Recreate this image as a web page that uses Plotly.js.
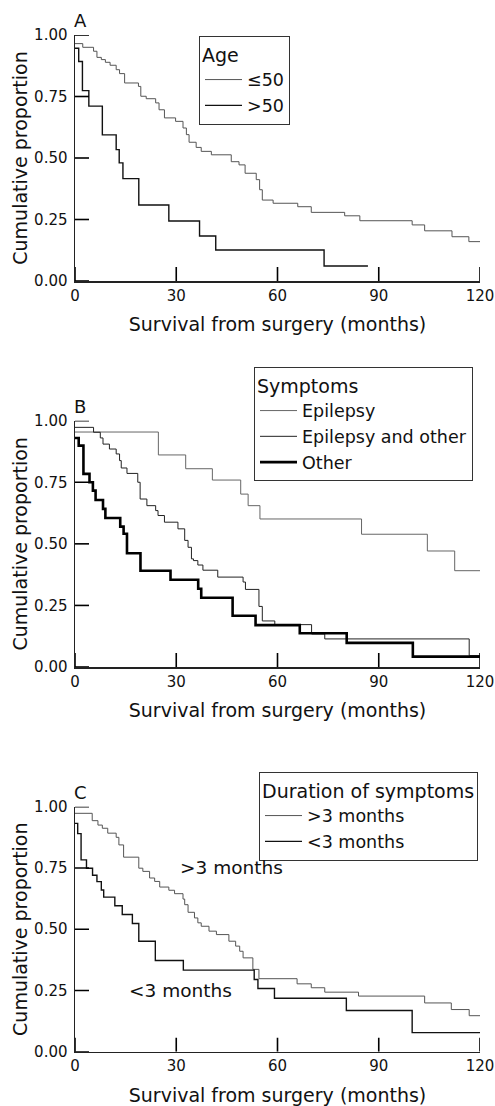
<!DOCTYPE html>
<html>
<head>
<meta charset="utf-8">
<script src="https://cdn.plot.ly/plotly-3.0.1.min.js"></script>
<style>html,body{margin:0;padding:0;background:#fff;}#chart{width:495px;height:1106px;}</style>
</head>
<body>
<div id="chart"></div>
<script>
// ---- Data ----
// Panel A: Age
const ageLe50Months = [0, 2.3, 5.5, 6.5, 7.8, 9, 10.4, 12.2, 13.2, 14.7, 18.8, 19.5, 21.1, 23.9, 24.9, 26.5, 29.8, 32, 33, 33.8, 35.9, 37.4, 40.4, 46.3, 48.6, 50.4, 53.7, 54.7, 55.5, 58.7, 66, 70, 79.9, 84.4, 99.9, 103.6, 111.7, 116.7, 120];
const ageLe50Surv   = [0.965, 0.950, 0.934, 0.909, 0.90, 0.889, 0.877, 0.859, 0.843, 0.805, 0.791, 0.751, 0.741, 0.724, 0.696, 0.663, 0.649, 0.622, 0.595, 0.564, 0.543, 0.527, 0.513, 0.485, 0.472, 0.438, 0.412, 0.371, 0.329, 0.316, 0.302, 0.279, 0.265, 0.245, 0.228, 0.204, 0.18, 0.16, 0.16];
const ageGt50Months = [0, 1.1, 2.2, 4.1, 8.1, 12.2, 13.1, 14.2, 18.9, 27.8, 36.9, 41.7, 73.8, 86.8];
const ageGt50Surv   = [0.946, 0.892, 0.774, 0.711, 0.594, 0.534, 0.48, 0.416, 0.309, 0.244, 0.183, 0.126, 0.061, 0.061];

// Panel B: Symptoms
const epiMonths = [0, 24.7, 32.8, 40.7, 49.1, 51.3, 54.8, 84.9, 104.4, 112.5, 120];
const epiSurv   = [0.954, 0.861, 0.805, 0.759, 0.702, 0.655, 0.601, 0.539, 0.471, 0.391, 0.391];
const epiOtherMonths = [0, 5.5, 7.5, 8.3, 10.2, 12.2, 13.2, 13.7, 15.4, 18.6, 19.3, 21.3, 23.9, 24.6, 26.5, 30.5, 32.5, 33.5, 34.5, 35.1, 36.4, 37.9, 42.3, 49.8, 50.5, 54.5, 55.5, 59.2, 70.1, 74, 116.8, 120];
const epiOtherSurv   = [0.973, 0.953, 0.930, 0.905, 0.885, 0.865, 0.838, 0.808, 0.786, 0.75, 0.682, 0.655, 0.635, 0.615, 0.588, 0.561, 0.514, 0.486, 0.439, 0.432, 0.414, 0.393, 0.365, 0.345, 0.315, 0.246, 0.187, 0.172, 0.134, 0.114, 0.046, 0.046];
const otherMonths = [0, 1.1, 2.5, 4.3, 5.3, 6.1, 8.3, 9, 13.4, 14.4, 15.4, 19.4, 28.3, 36.5, 37.4, 46.7, 53.5, 66.6, 80.5, 100.1, 120];
const otherSurv   = [0.930, 0.899, 0.784, 0.75, 0.716, 0.678, 0.642, 0.605, 0.570, 0.541, 0.462, 0.391, 0.354, 0.318, 0.281, 0.208, 0.170, 0.137, 0.098, 0.042, 0.042];

// Panel C: Duration of symptoms
const longMonths = [0, 5.1, 6.8, 8.1, 9.7, 12.2, 13, 14.4, 18.9, 20.1, 22.1, 23.6, 25.1, 27.8, 29.5, 32, 32.5, 33.5, 35.4, 36.4, 37.4, 39.7, 41.9, 45.6, 47.6, 48.8, 49.8, 52.7, 54.5, 65.8, 70, 74, 84, 103.6, 111.5, 116.8, 120];
const longSurv   = [0.973, 0.943, 0.925, 0.912, 0.892, 0.875, 0.844, 0.794, 0.749, 0.736, 0.709, 0.695, 0.672, 0.659, 0.645, 0.623, 0.60, 0.569, 0.546, 0.526, 0.512, 0.492, 0.478, 0.451, 0.431, 0.41, 0.383, 0.336, 0.298, 0.277, 0.261, 0.243, 0.227, 0.199, 0.172, 0.147, 0.147];
const shortMonths = [0, 0.8, 1.8, 3.4, 5.2, 6.5, 7.8, 8.5, 11.8, 14, 17, 18.9, 23.8, 32.1, 53.1, 54.2, 59.1, 80.4, 99.9, 120];
const shortSurv   = [0.932, 0.89, 0.783, 0.749, 0.72, 0.694, 0.66, 0.631, 0.596, 0.560, 0.523, 0.451, 0.372, 0.333, 0.295, 0.258, 0.218, 0.168, 0.078, 0.078];

const xTicks = [0, 30, 60, 90, 120];
const yTicks = [0, 0.25, 0.5, 0.75, 1];
const yTickText = ['0.00', '0.25', '0.50', '0.75', '1.00'];
const xTitle = 'Survival from surgery (months)';
const yTitle = 'Cumulative proportion';

// ---- Styling ----
const FONT = 'DejaVu Sans, Arial, sans-serif';
const TXT = '#111';
const W = 495, H = 1106;
const ML = 75, MR = 15;
const TICK_PX = 14;
function dom(topPx, botPx) { return [1 - botPx / H, 1 - topPx / H]; }
const domA = dom(35, 281), domB = dom(420.7, 667), domC = dom(806.7, 1051.7);

function xAxis(anchor) {
  return {
    anchor: anchor, domain: [0, 1], range: [0, 120],
    tickmode: 'array', tickvals: xTicks, ticks: '',
    showline: true, linecolor: '#222', linewidth: 1.5, showgrid: false, zeroline: false,
    tickfont: { family: FONT, size: 15, color: TXT },
    title: { text: xTitle, font: { family: FONT, size: 19, color: TXT }, standoff: 14 },
    automargin: false, fixedrange: true
  };
}
function yAxis(anchor, domain) {
  return {
    anchor: anchor, domain: domain, range: [0, 1],
    tickmode: 'array', tickvals: yTicks, ticktext: yTickText, ticks: '',
    showline: true, linecolor: '#222', linewidth: 1.5, showgrid: false, zeroline: false,
    ticklabelstandoff: 3,
    tickfont: { family: FONT, size: 15, color: TXT },
    title: { text: yTitle, font: { family: FONT, size: 19, color: TXT }, standoff: 1 },
    automargin: false, fixedrange: true
  };
}
function step(x, y, name, color, width, xa, ya, legend) {
  return { type: 'scatter', mode: 'lines', x: x, y: y, name: name,
    line: { shape: 'hv', color: color, width: width },
    xaxis: xa, yaxis: ya, legend: legend, hoverinfo: 'skip' };
}

const traces = [
  step(ageLe50Months, ageLe50Surv, '\u226450', '#555', 1, 'x', 'y', 'legend'),
  step(ageGt50Months, ageGt50Surv, '>50', '#111', 1.4, 'x', 'y', 'legend'),
  step(epiMonths, epiSurv, 'Epilepsy', '#666', 1, 'x2', 'y2', 'legend2'),
  step(epiOtherMonths, epiOtherSurv, 'Epilepsy and other', '#222', 1, 'x2', 'y2', 'legend2'),
  step(otherMonths, otherSurv, 'Other', '#000', 2.6, 'x2', 'y2', 'legend2'),
  step(longMonths, longSurv, '>3 months', '#555', 1, 'x3', 'y3', 'legend3'),
  step(shortMonths, shortSurv, '<3 months', '#111', 1.4, 'x3', 'y3', 'legend3')
];

// Inward tick marks, placed at the tick values through each panel's axes
function tickShapes(xref, yref, domain) {
  const shapes = [];
  const yLen = TICK_PX / ((domain[1] - domain[0]) * H);      // in y data units (range 0..1)
  const xLen = TICK_PX / ((W - ML - MR) / 120);              // in x data units (range 0..120)
  const st = { color: '#000', width: 1.6 };
  xTicks.forEach(function (v) {
    shapes.push({ type: 'line', xref: xref, yref: yref, x0: v, x1: v, y0: 0, y1: yLen, line: st, layer: 'above' });
  });
  yTicks.forEach(function (v) {
    shapes.push({ type: 'line', xref: xref, yref: yref, x0: 0, x1: xLen, y0: v, y1: v, line: st, layer: 'above' });
  });
  return shapes;
}

function legendBox(xPx, yPx, title) {
  return {
    xref: 'paper', yref: 'paper', x: (xPx - ML) / (W - ML - MR), y: 1 - yPx / H, xanchor: 'left', yanchor: 'top',
    bgcolor: 'rgba(255,255,255,1)', bordercolor: '#333', borderwidth: 1,
    font: { family: FONT, size: 17.5, color: TXT },
    title: { text: title, font: { family: FONT, size: 19, color: TXT } },
    tracegroupgap: 0, itemwidth: 37, traceorder: 'normal'
  };
}

function panelLabel(txt, xref, yref) {
  return { text: txt, xref: xref + ' domain', yref: yref + ' domain', x: 0, y: 1, xanchor: 'left', yanchor: 'bottom',
    xshift: -3, yshift: 2, showarrow: false, font: { family: FONT, size: 18, color: TXT } };
}

const layout = {
  width: W, height: H,
  margin: { l: ML, r: MR, t: 0, b: 0, autoexpand: false },
  paper_bgcolor: '#fff', plot_bgcolor: '#fff',
  showlegend: true,
  xaxis: xAxis('y'), yaxis: yAxis('x', domA),
  xaxis2: xAxis('y2'), yaxis2: yAxis('x2', domB),
  xaxis3: xAxis('y3'), yaxis3: yAxis('x3', domC),
  legend: legendBox(199, 36, 'Age'),
  legend2: legendBox(254, 367, 'Symptoms'),
  legend3: legendBox(259, 772, 'Duration of symptoms'),
  shapes: [].concat(tickShapes('x', 'y', domA), tickShapes('x2', 'y2', domB), tickShapes('x3', 'y3', domC)),
  annotations: [
    panelLabel('A', 'x', 'y'),
    panelLabel('B', 'x2', 'y2'),
    panelLabel('C', 'x3', 'y3'),
    { text: '>3 months', xref: 'x3', yref: 'y3', x: 30.4, y: 0.75, xanchor: 'left', yanchor: 'middle', showarrow: false,
      font: { family: FONT, size: 18.5, color: TXT } },
    { text: '<3 months', xref: 'x3', yref: 'y3', x: 15.3, y: 0.248, xanchor: 'left', yanchor: 'middle', showarrow: false,
      font: { family: FONT, size: 18.5, color: TXT } }
  ]
};

Plotly.newPlot('chart', traces, layout, { displayModeBar: false, staticPlot: true });
</script>
</body>
</html>
